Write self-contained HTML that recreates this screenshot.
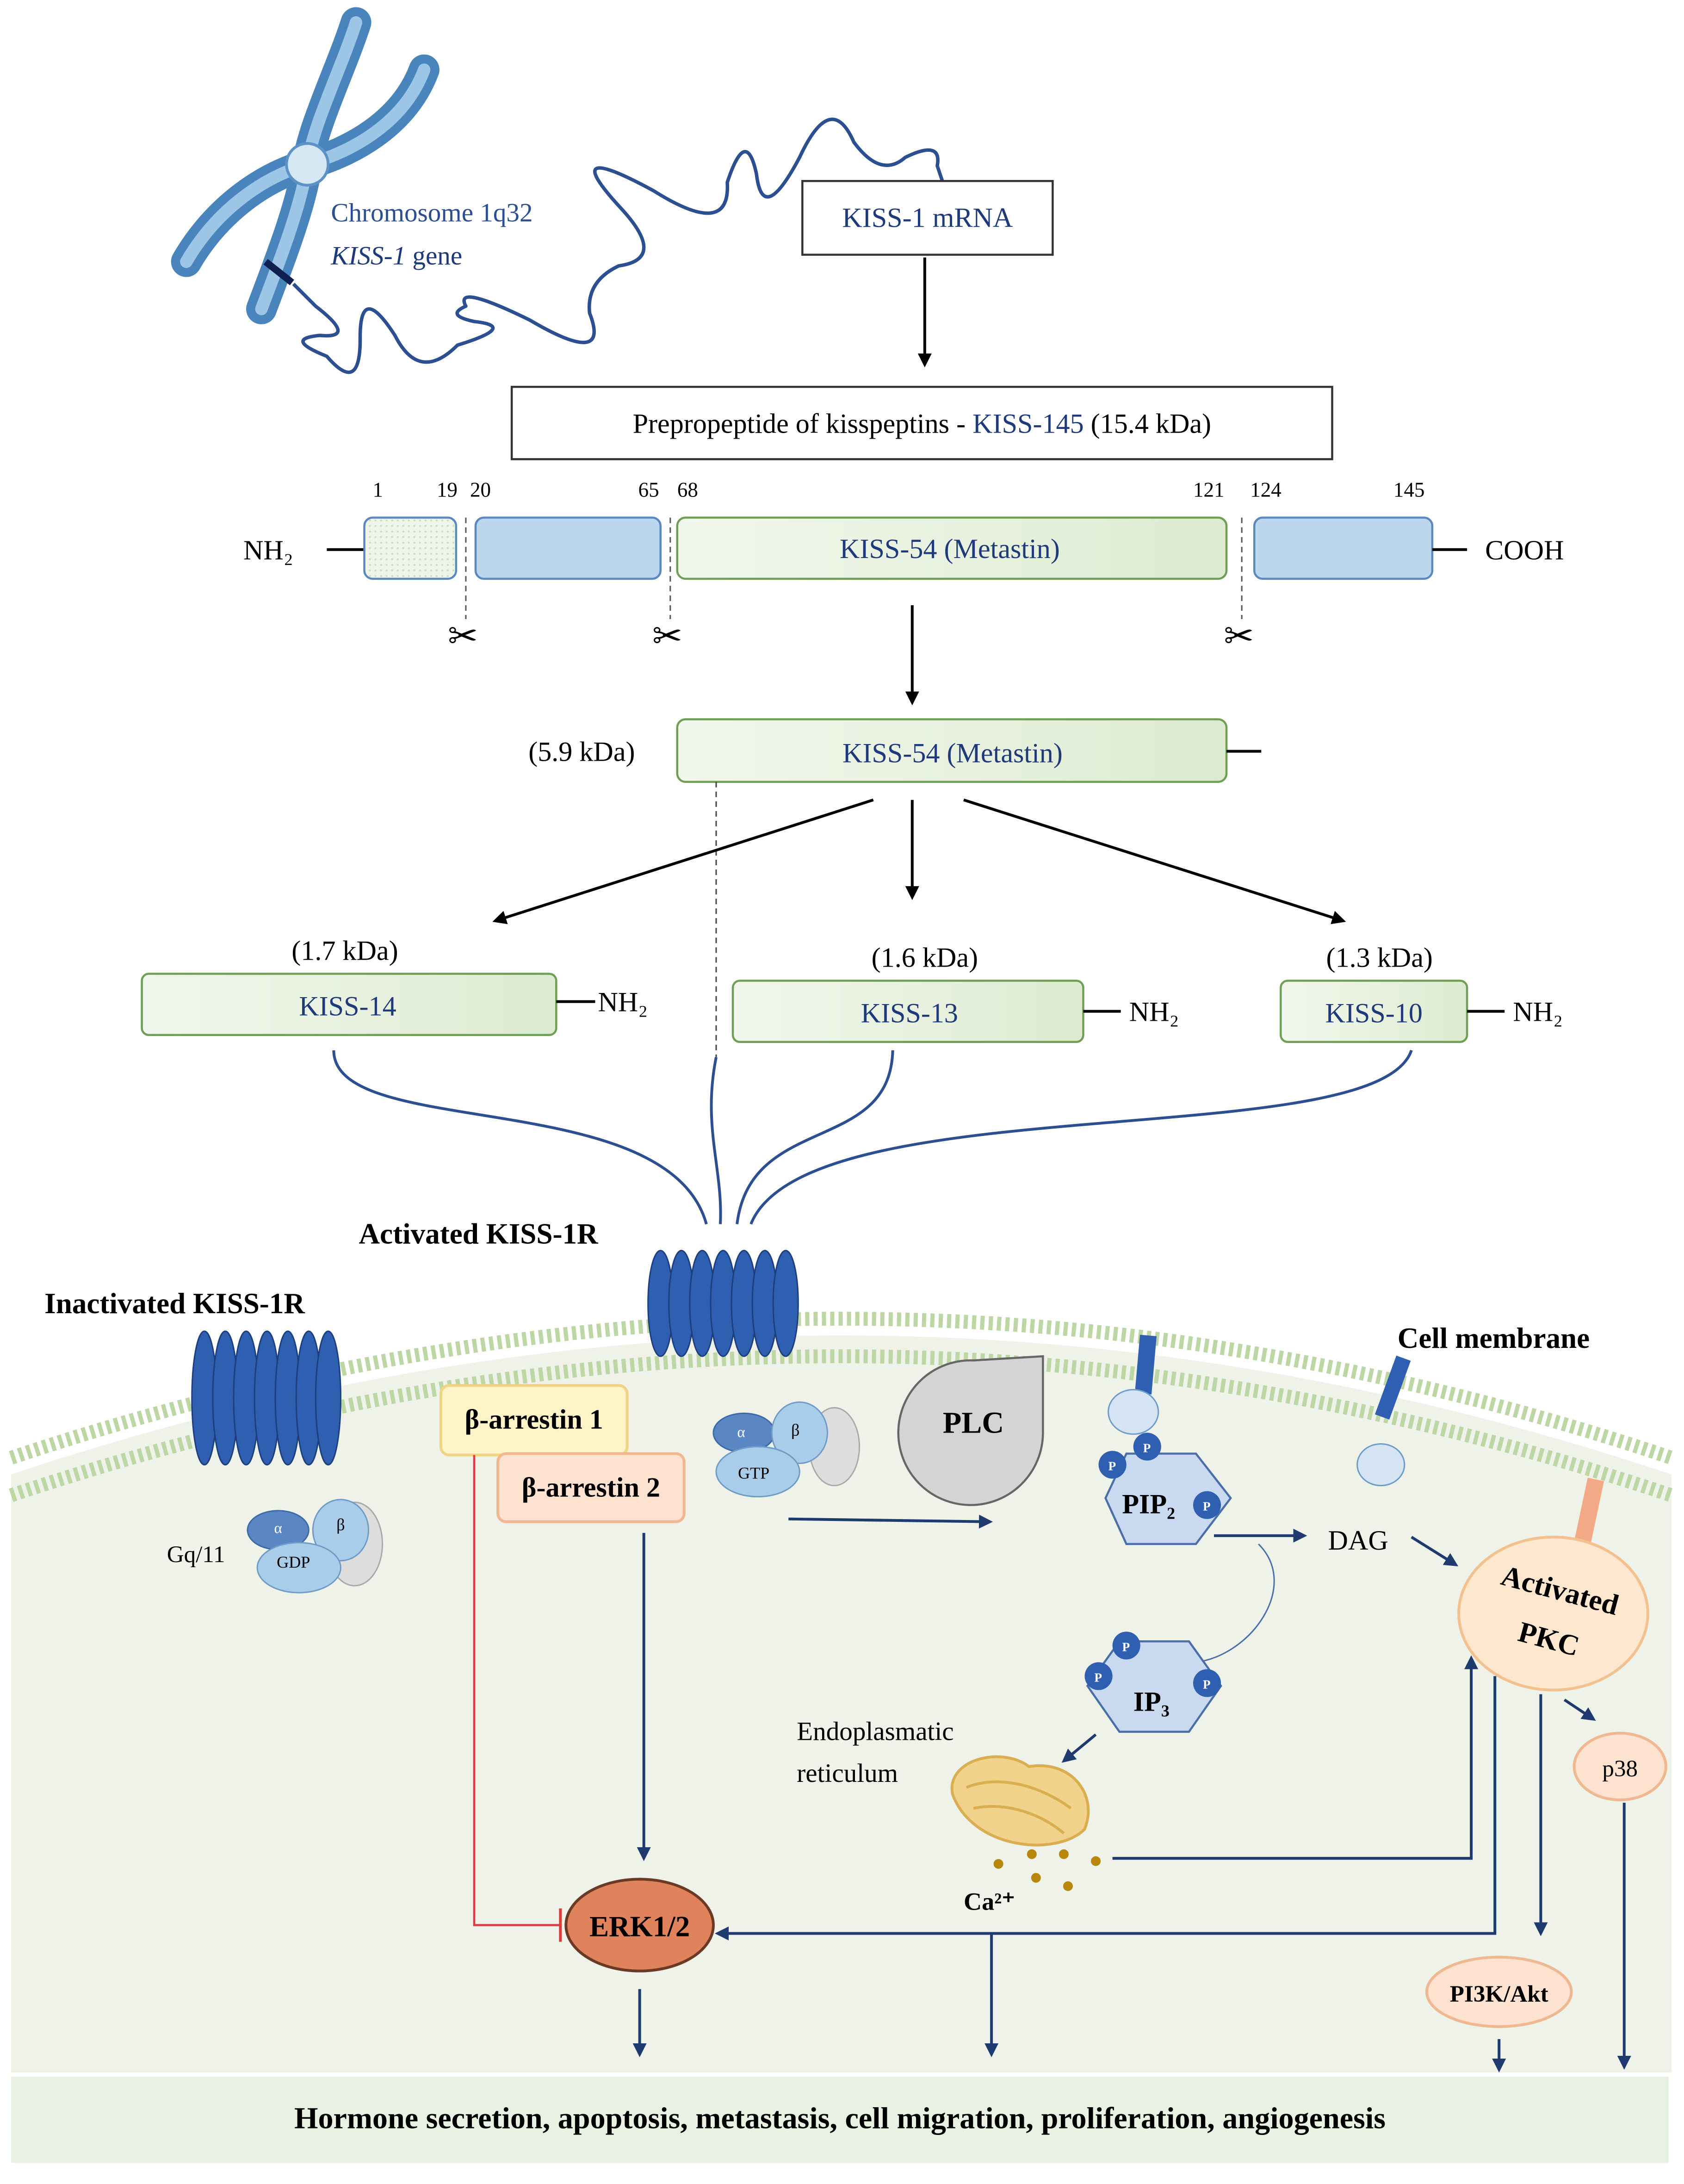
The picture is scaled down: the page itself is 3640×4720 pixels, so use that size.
<!DOCTYPE html>
<html><head><meta charset="utf-8"><style>
html,body{margin:0;padding:0;background:#fff}
svg{display:block}
text{font-family:"Liberation Serif",serif}
</style></head><body>
<svg width="3640" height="4720" viewBox="0 0 1211 1570" xmlns="http://www.w3.org/2000/svg">
<defs>
<marker id="ak" markerWidth="10" markerHeight="10" refX="8" refY="5" orient="auto" markerUnits="userSpaceOnUse"><path d="M0,0 L10,5 L0,10 z" fill="#000"/></marker>
<marker id="ab" markerWidth="10" markerHeight="10" refX="8" refY="5" orient="auto" markerUnits="userSpaceOnUse"><path d="M0,0 L10,5 L0,10 z" fill="#1f3a6e"/></marker>
<pattern id="dots" width="4" height="4" patternUnits="userSpaceOnUse"><rect width="4" height="4" fill="#eef5e8"/><circle cx="2" cy="2" r="0.7" fill="#c8dcc0"/></pattern>
<linearGradient id="gg" x1="0" x2="1"><stop offset="0" stop-color="#f1f7ec"/><stop offset="0.6" stop-color="#e6f0dc"/><stop offset="1" stop-color="#dcebcf"/></linearGradient>
</defs>

<!-- cell -->
<path d="M8,1060 Q605,860 1202,1060 L1202,1490 L8,1490 Z" fill="#eef2e9"/>
<path d="M8,1048 Q605,848 1202,1048" fill="none" stroke="#bcd6a4" stroke-width="10" stroke-dasharray="3 3"/>
<path d="M8,1075 Q605,875 1202,1075" fill="none" stroke="#bcd6a4" stroke-width="10" stroke-dasharray="3 3"/>
<rect x="8" y="1493" width="1192" height="62" fill="#e9f1e2"/>
<text x="604" y="1530" text-anchor="middle" font-size="22" font-weight="bold">Hormone secretion, apoptosis, metastasis, cell migration, proliferation, angiogenesis</text>

<!-- chromosome -->
<path d="M211,204 L227,220 Q257.5,243.5 230,241 Q203.5,243.5 235,256 Q259,284 259,244 Q258.5,201.5 284,241 Q301.5,275.5 329,248 Q373,234.5 341,231 Q320,226.5 335,220 Q326,203 381,230 Q439.5,264.5 424,225 Q421.5,202 445,191 Q480.5,186 446,149 Q400,99 470,137 Q525.5,172 523,131 Q536.5,90 544,125 Q548.5,163 575,113 Q597.5,64.5 614,102 Q633.5,128.5 651,113 Q677.5,100 674,119 L678,131" fill="none" stroke="#2b4f91" stroke-width="2.5" stroke-linejoin="round"/>
<g fill="none" stroke-linecap="round">
<path d="M256,16 C245,50 225,90 221,118 C216,150 200,190 188,222" stroke="#4a84bd" stroke-width="22"/>
<path d="M305,50 C290,90 250,110 221,118 C180,130 150,160 134,188" stroke="#4a84bd" stroke-width="22"/>
<path d="M256,16 C245,50 225,90 221,118 C216,150 200,190 188,222" stroke="#9cc5e6" stroke-width="9"/>
<path d="M305,50 C290,90 250,110 221,118 C180,130 150,160 134,188" stroke="#9cc5e6" stroke-width="9"/>
</g>
<circle cx="221" cy="118" r="15" fill="#d6e7f4" stroke="#5c92c6" stroke-width="2"/>
<line x1="191" y1="188" x2="210" y2="203" stroke="#0f1f4f" stroke-width="5"/>
<text x="238" y="159" font-size="19" fill="#2b4f91">Chromosome 1q32</text>
<text x="238" y="190" font-size="19" fill="#1f3a7a"><tspan font-style="italic">KISS-1</tspan> gene</text>

<rect x="577" y="130" width="180" height="53" fill="#fff" stroke="#333" stroke-width="1.5"/>
<text x="667" y="163" text-anchor="middle" font-size="20" fill="#1f3a7a">KISS-1 mRNA</text>
<line x1="665" y1="185" x2="665" y2="262" stroke="#000" stroke-width="2" marker-end="url(#ak)"/>
<rect x="368" y="278" width="590" height="52" fill="#fff" stroke="#333" stroke-width="1.5"/>
<text x="663" y="311" text-anchor="middle" font-size="20">Prepropeptide of kisspeptins  - <tspan fill="#1f3a7a">KISS-145</tspan> (15.4 kDa)</text>

<g font-size="15">
<text x="268" y="357">1</text><text x="314" y="357">19</text><text x="338" y="357">20</text><text x="459" y="357">65</text><text x="487" y="357">68</text><text x="858" y="357">121</text><text x="899" y="357">124</text><text x="1002" y="357">145</text>
</g>
<text x="175" y="402" font-size="20">NH₂</text>
<line x1="235" y1="395" x2="262" y2="395" stroke="#000" stroke-width="2"/>
<rect x="262" y="372" width="66" height="44" rx="6" fill="url(#dots)" stroke="#5a88c0" stroke-width="1.5"/>
<rect x="342" y="372" width="133" height="44" rx="6" fill="#bcd6ee" stroke="#5a88c0" stroke-width="1.5"/>
<rect x="487" y="372" width="395" height="44" rx="6" fill="url(#gg)" stroke="#6f9f55" stroke-width="1.5"/>
<text x="683" y="401" text-anchor="middle" font-size="20" fill="#1f3a7a">KISS-54 (Metastin)</text>
<rect x="902" y="372" width="128" height="44" rx="6" fill="#bcd6ee" stroke="#5a88c0" stroke-width="1.5"/>
<line x1="1030" y1="395" x2="1055" y2="395" stroke="#000" stroke-width="2"/>
<text x="1068" y="402" font-size="20">COOH</text>
<g stroke="#555" stroke-width="1" stroke-dasharray="4 3"><line x1="335" y1="372" x2="335" y2="445"/><line x1="482" y1="372" x2="482" y2="445"/><line x1="893" y1="372" x2="893" y2="445"/></g>
<g font-size="26"><text x="322" y="466">✂</text><text x="469" y="466">✂</text><text x="880" y="466">✂</text></g>

<line x1="656" y1="435" x2="656" y2="505" stroke="#000" stroke-width="2" marker-end="url(#ak)"/>
<text x="380" y="547" font-size="20">(5.9 kDa)</text>
<rect x="487" y="517" width="395" height="45" rx="6" fill="url(#gg)" stroke="#6f9f55" stroke-width="1.5"/>
<text x="685" y="548" text-anchor="middle" font-size="20" fill="#1f3a7a">KISS-54 (Metastin)</text>
<line x1="882" y1="540" x2="907" y2="540" stroke="#000" stroke-width="2"/>
<line x1="515" y1="562" x2="515" y2="760" stroke="#444" stroke-width="1" stroke-dasharray="4 3"/>
<g stroke="#000" stroke-width="2"><line x1="628" y1="575" x2="356" y2="662" marker-end="url(#ak)"/><line x1="656" y1="575" x2="656" y2="645" marker-end="url(#ak)"/><line x1="693" y1="575" x2="966" y2="662" marker-end="url(#ak)"/></g>

<text x="248" y="690" text-anchor="middle" font-size="20">(1.7 kDa)</text>
<rect x="102" y="700" width="298" height="44" rx="5" fill="url(#gg)" stroke="#6f9f55" stroke-width="1.5"/>
<text x="250" y="730" text-anchor="middle" font-size="20" fill="#1f3a7a">KISS-14</text>
<line x1="400" y1="720" x2="428" y2="720" stroke="#000" stroke-width="2"/><text x="430" y="727" font-size="20">NH₂</text>
<text x="665" y="695" text-anchor="middle" font-size="20">(1.6 kDa)</text>
<rect x="527" y="705" width="252" height="44" rx="5" fill="url(#gg)" stroke="#6f9f55" stroke-width="1.5"/>
<text x="654" y="735" text-anchor="middle" font-size="20" fill="#1f3a7a">KISS-13</text>
<line x1="779" y1="727" x2="806" y2="727" stroke="#000" stroke-width="2"/><text x="812" y="734" font-size="20">NH₂</text>
<text x="992" y="695" text-anchor="middle" font-size="20">(1.3 kDa)</text>
<rect x="921" y="705" width="134" height="44" rx="5" fill="url(#gg)" stroke="#6f9f55" stroke-width="1.5"/>
<text x="988" y="735" text-anchor="middle" font-size="20" fill="#1f3a7a">KISS-10</text>
<line x1="1055" y1="727" x2="1082" y2="727" stroke="#000" stroke-width="2"/><text x="1088" y="734" font-size="20">NH₂</text>

<g fill="none" stroke="#2b4f91" stroke-width="2">
<path d="M240,755 C240,820 480,780 508,880"/>
<path d="M515,760 C505,810 520,840 518,880"/>
<path d="M642,755 C640,830 540,800 530,880"/>
<path d="M1015,755 C990,830 580,780 540,880"/>
</g>

<text x="258" y="894" font-size="21" font-weight="bold">Activated KISS-1R</text>
<text x="32" y="944" font-size="21" font-weight="bold">Inactivated KISS-1R</text>
<text x="1005" y="969" font-size="21" font-weight="bold">Cell membrane</text>

<!-- receptors -->
<g fill="#2f5fb0" stroke="#1d3f80" stroke-width="1">
<ellipse cx="475" cy="937" rx="9" ry="38"/><ellipse cx="490" cy="937" rx="9" ry="38"/><ellipse cx="505" cy="937" rx="9" ry="38"/><ellipse cx="520" cy="937" rx="9" ry="38"/><ellipse cx="535" cy="937" rx="9" ry="38"/><ellipse cx="550" cy="937" rx="9" ry="38"/><ellipse cx="565" cy="937" rx="9" ry="38"/>
<ellipse cx="147" cy="1005" rx="9" ry="48"/><ellipse cx="162" cy="1005" rx="9" ry="48"/><ellipse cx="177" cy="1005" rx="9" ry="48"/><ellipse cx="192" cy="1005" rx="9" ry="48"/><ellipse cx="207" cy="1005" rx="9" ry="48"/><ellipse cx="222" cy="1005" rx="9" ry="48"/><ellipse cx="236" cy="1005" rx="9" ry="48"/>
</g>
<!-- G proteins -->
<g>
<ellipse cx="255" cy="1110" rx="20" ry="30" fill="#ddd" stroke="#aaa"/>
<ellipse cx="200" cy="1100" rx="22" ry="14" fill="#5b86c4" stroke="#3c6aa8"/>
<ellipse cx="245" cy="1100" rx="20" ry="22" fill="#a9cde8" stroke="#6d9cc8"/>
<ellipse cx="215" cy="1127" rx="30" ry="18" fill="#a9cde8" stroke="#6d9cc8"/>
<text x="211" y="1127" font-size="12" text-anchor="middle">GDP</text><text x="200" y="1102" font-size="11" fill="#fff" text-anchor="middle">α</text><text x="245" y="1100" font-size="12" text-anchor="middle">β</text>
<text x="120" y="1123" font-size="17">Gq/11</text>
<ellipse cx="600" cy="1040" rx="18" ry="28" fill="#ddd" stroke="#aaa"/>
<ellipse cx="535" cy="1030" rx="22" ry="14" fill="#5b86c4" stroke="#3c6aa8"/>
<ellipse cx="575" cy="1030" rx="20" ry="22" fill="#a9cde8" stroke="#6d9cc8"/>
<ellipse cx="545" cy="1058" rx="30" ry="18" fill="#a9cde8" stroke="#6d9cc8"/>
<text x="542" y="1063" font-size="12" text-anchor="middle">GTP</text><text x="533" y="1033" font-size="11" fill="#fff" text-anchor="middle">α</text><text x="572" y="1032" font-size="12" text-anchor="middle">β</text>
</g>

<rect x="317" y="996" width="134" height="50" rx="6" fill="#fff4c8" stroke="#f1d482" stroke-width="2"/>
<text x="384" y="1027" text-anchor="middle" font-size="20" font-weight="bold">β-arrestin 1</text>
<rect x="358" y="1045" width="134" height="49" rx="6" fill="#fde2cf" stroke="#f0b890" stroke-width="2"/>
<text x="425" y="1076" text-anchor="middle" font-size="20" font-weight="bold">β-arrestin 2</text>

<path d="M750,975 L750,1030 A52,52 0 1,1 700,978 Z" fill="#d4d4d4" stroke="#666" stroke-width="1.5"/>
<text x="700" y="1030" text-anchor="middle" font-size="22" font-weight="bold">PLC</text>

<!-- pins -->
<rect x="818" y="960" width="12" height="42" fill="#2f5fb0" transform="rotate(5 824 980)"/>
<ellipse cx="815" cy="1015" rx="18" ry="16" fill="#d5e4f3" stroke="#6d9cc8"/>
<rect x="997" y="975" width="11" height="45" fill="#2f5fb0" transform="rotate(20 1002 995)"/>
<ellipse cx="993" cy="1053" rx="17" ry="15" fill="#d5e4f3" stroke="#6d9cc8"/>
<rect x="1136" y="1063" width="12" height="52" fill="#f4a986" transform="rotate(12 1142 1090)"/>

<polygon points="810,1045 860,1045 885,1077 860,1110 810,1110 795,1077" fill="#c9daf0" stroke="#4a6fa8" stroke-width="1.5"/>
<text x="826" y="1088" text-anchor="middle" font-size="20" font-weight="bold">PIP₂</text>
<g fill="#2f5fb0"><circle cx="800" cy="1053" r="10"/><circle cx="825" cy="1040" r="10"/><circle cx="868" cy="1082" r="10"/></g>
<g fill="#fff" font-size="9" font-weight="bold"><text x="797" y="1057">P</text><text x="822" y="1044">P</text><text x="865" y="1086">P</text></g>

<text x="955" y="1114" font-size="20">DAG</text>
<ellipse cx="1117" cy="1160" rx="68" ry="55" fill="#fde7cf" stroke="#f3c18e" stroke-width="2"/>
<text x="1120" y="1150" text-anchor="middle" font-size="21" font-weight="bold" transform="rotate(15 1120 1150)">Activated</text>
<text x="1112" y="1185" text-anchor="middle" font-size="21" font-weight="bold" transform="rotate(15 1112 1185)">PKC</text>

<path d="M905,1110 C935,1140 900,1190 860,1195" fill="none" stroke="#4a6fa8" stroke-width="1"/>
<polygon points="805,1180 855,1180 878,1212 855,1245 805,1245 782,1212" fill="#c9daf0" stroke="#4a6fa8" stroke-width="1.5"/>
<text x="828" y="1230" text-anchor="middle" font-size="20" font-weight="bold">IP₃</text>
<g fill="#2f5fb0"><circle cx="810" cy="1183" r="10"/><circle cx="790" cy="1205" r="10"/><circle cx="868" cy="1210" r="10"/></g>
<g fill="#fff" font-size="9" font-weight="bold"><text x="807" y="1187">P</text><text x="787" y="1209">P</text><text x="865" y="1214">P</text></g>

<text x="573" y="1251" font-size="19">Endoplasmatic</text>
<text x="573" y="1281" font-size="19">reticulum</text>
<path d="M685,1290 C680,1265 720,1255 740,1270 C770,1265 790,1290 780,1315 C760,1335 700,1330 685,1290 Z" fill="#f0d28a" stroke="#d9ad50" stroke-width="2"/>
<path d="M695,1285 C720,1275 750,1285 770,1300 M700,1300 C725,1295 750,1305 765,1318" fill="none" stroke="#d9ad50" stroke-width="2"/>
<g fill="#b8860b"><circle cx="718" cy="1340" r="3.5"/><circle cx="742" cy="1333" r="3.5"/><circle cx="765" cy="1333" r="3.5"/><circle cx="788" cy="1338" r="3.5"/><circle cx="745" cy="1350" r="3.5"/><circle cx="768" cy="1356" r="3.5"/></g>
<text x="693" y="1373" font-size="18" font-weight="bold">Ca²⁺</text>

<ellipse cx="460" cy="1384" rx="53" ry="33" fill="#e0835c" stroke="#6b3a25" stroke-width="2"/>
<text x="460" y="1392" text-anchor="middle" font-size="21" font-weight="bold">ERK1/2</text>
<ellipse cx="1165" cy="1270" rx="33" ry="24" fill="#fde2cf" stroke="#f0b890" stroke-width="2"/>
<text x="1165" y="1277" text-anchor="middle" font-size="17">p38</text>
<ellipse cx="1078" cy="1432" rx="52" ry="25" fill="#fde2cf" stroke="#f0b890" stroke-width="2"/>
<text x="1078" y="1439" text-anchor="middle" font-size="17" font-weight="bold">PI3K/Akt</text>

<!-- red inhibition -->
<polyline points="341,1046 341,1384 403,1384" fill="none" stroke="#e03a3a" stroke-width="1.5"/>
<line x1="403" y1="1372" x2="403" y2="1396" stroke="#e03a3a" stroke-width="2"/>

<g fill="none" stroke="#1f3a6e" stroke-width="2">
<line x1="567" y1="1092" x2="712" y2="1094" marker-end="url(#ab)"/>
<line x1="873" y1="1104" x2="938" y2="1104" marker-end="url(#ab)"/>
<line x1="1015" y1="1105" x2="1047" y2="1125" marker-end="url(#ab)"/>
<line x1="788" y1="1247" x2="765" y2="1266" marker-end="url(#ab)"/>
<line x1="463" y1="1102" x2="463" y2="1336" marker-end="url(#ab)"/>
<polyline points="800,1336 1058,1336 1058,1192" marker-end="url(#ab)"/>
<polyline points="1075,1205 1075,1390 516,1390" marker-end="url(#ab)"/>
<line x1="1108" y1="1218" x2="1108" y2="1390" marker-end="url(#ab)"/>
<line x1="1125" y1="1222" x2="1146" y2="1236" marker-end="url(#ab)"/>
<line x1="1168" y1="1296" x2="1168" y2="1486" marker-end="url(#ab)"/>
<line x1="1078" y1="1466" x2="1078" y2="1488" marker-end="url(#ab)"/>
<line x1="460" y1="1430" x2="460" y2="1477" marker-end="url(#ab)"/>
<line x1="713" y1="1390" x2="713" y2="1477" marker-end="url(#ab)"/>
</g>
</svg>
</body></html>
